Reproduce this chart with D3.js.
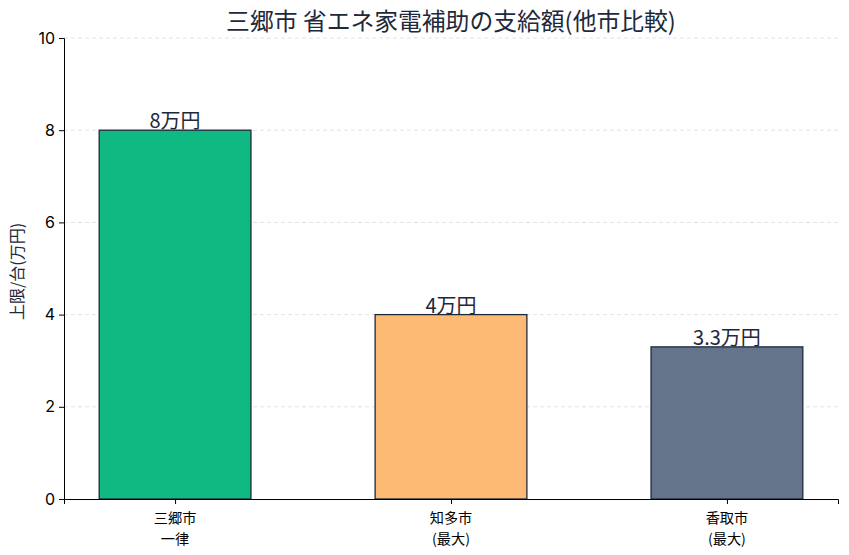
<!DOCTYPE html>
<html>
<head>
<meta charset="utf-8">
<script src="https://cdn.jsdelivr.net/npm/d3@7"></script>
<style>
  body { margin: 0; background: #fff; }
  svg { font-family: "Noto Sans CJK JP", "Noto Sans", sans-serif; }
</style>
</head>
<body>
<div id="chart"></div>
<script>
// data
const cities = ["三郷市\n一律", "知多市\n(最大)", "香取市\n(最大)"];
const amounts = [8, 4, 3.3];
const barLabels = ["8万円", "4万円", "3.3万円"];
const barColors = ["#10b981", "#fdba74", "#64748b"];
const yTicks = [0, 2, 4, 6, 8, 10];

const W = 849, H = 555;
const margin = {top: 38, right: 11, bottom: 56, left: 64};
const width = W - margin.left - margin.right,
      height = H - margin.top - margin.bottom;

const svg = d3.select("#chart").append("svg")
  .attr("width", W).attr("height", H);

const g = svg.append("g")
  .attr("transform", `translate(${margin.left}, ${margin.top})`);

// x as numeric positions like matplotlib, bar width 0.55
const barW = 0.55;
const x = d3.scaleLinear()
  .domain([-0.4025, 2.4025])
  .range([0, width]);
const y = d3.scaleLinear()
  .domain([0, 10])
  .range([height, 0]);

// grid
g.append("g")
  .selectAll("line")
  .data(yTicks.slice(1))
  .join("line")
  .attr("x1", 0).attr("x2", width)
  .attr("y1", d => y(d)).attr("y2", d => y(d))
  .attr("stroke", "#dcdcdc")
  .attr("stroke-width", 0.8)
  .attr("stroke-dasharray", "4,3");

// bars
g.selectAll("rect.bar")
  .data(amounts)
  .join("rect")
  .attr("class", "bar")
  .attr("x", (d, i) => x(i - barW / 2))
  .attr("y", d => y(d))
  .attr("width", x(barW) - x(0))
  .attr("height", d => y(0) - y(d))
  .attr("fill", (d, i) => barColors[i])
  .attr("stroke", "#1e293b")
  .attr("stroke-width", 1.3);

// value labels
g.selectAll("text.val")
  .data(amounts)
  .join("text")
  .attr("class", "val")
  .attr("x", (d, i) => x(i))
  .attr("y", d => y(d) - 2)
  .attr("text-anchor", "middle")
  .attr("fill", "#1e293b")
  .style("font-size", "20px")
  .text((d, i) => barLabels[i]);

// y axis
const yAxis = g.append("g")
  .call(d3.axisLeft(y).tickValues(yTicks).tickSize(5).tickPadding(4));
yAxis.selectAll("text").style("font-size", "16px").attr("fill", "#000")
  .style("font-family", "Inter, 'Noto Sans', sans-serif");
yAxis.select(".domain").attr("stroke", "#000");
yAxis.selectAll(".tick line").attr("stroke", "#000");

// x axis
const xAxis = g.append("g")
  .attr("transform", `translate(0, ${height})`)
  .call(d3.axisBottom(x).tickValues([0, 1, 2]).tickSize(5).tickFormat(""));
xAxis.select(".domain").attr("stroke", "#000");
xAxis.selectAll(".tick line").attr("stroke", "#000");

// two-line category labels, one text per line
const xl = g.append("g");
cities.forEach((c, i) => {
  c.split("\n").forEach((line, j) => {
    xl.append("text")
      .attr("x", x(i))
      .attr("y", height + 24 + j * 20.8)
      .attr("text-anchor", "middle")
      .attr("fill", "#000")
      .style("font-size", "14.2px")
      .text(line);
  });
});

// y axis label
svg.append("text")
  .attr("transform", `translate(23, ${margin.top + height / 2 + 3}) rotate(-90)`)
  .attr("text-anchor", "middle")
  .attr("fill", "#1e293b")
  .style("font-size", "16px")
  .text("上限/台(万円)");

// title
svg.append("text")
  .attr("x", margin.left + width / 2)
  .attr("y", 30)
  .attr("text-anchor", "middle")
  .attr("fill", "#1e293b")
  .style("font-size", "23.8px")
  .text("三郷市 省エネ家電補助の支給額(他市比較)");
</script>
</body>
</html>
